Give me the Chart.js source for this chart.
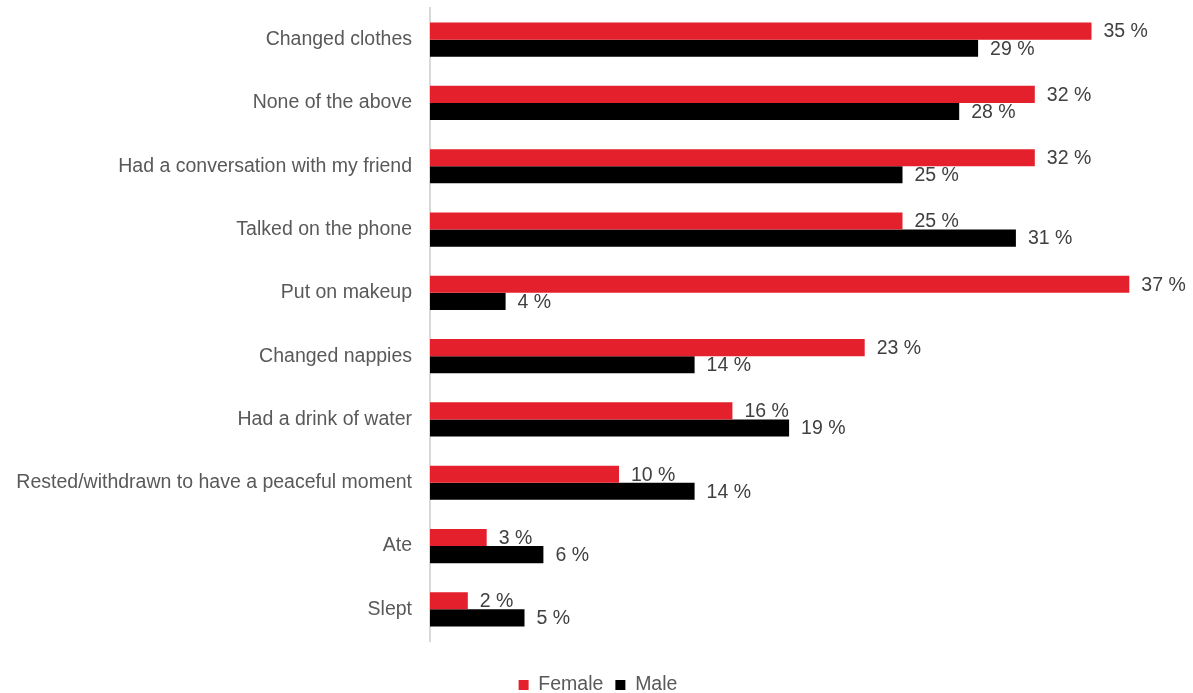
<!DOCTYPE html>
<html>
<head>
<meta charset="utf-8">
<script src="https://cdn.jsdelivr.net/npm/chart.js@4"></script>
<style>
  html, body { margin: 0; padding: 0; background: #ffffff; }
  #wrap { width: 1193px; height: 693px; position: relative; }
</style>
</head>
<body>
<div id="wrap"><canvas id="chart"></canvas></div>
<script>
// Activities, in display order (top to bottom)
const categories = [
  "Changed clothes",
  "None of the above",
  "Had a conversation with my friend",
  "Talked on the phone",
  "Put on makeup",
  "Changed nappies",
  "Had a drink of water",
  "Rested/withdrawn to have a peaceful moment",
  "Ate",
  "Slept"
];
// Share of respondents, percent
const femaleValues = [35, 32, 32, 25, 37, 23, 16, 10, 3, 2];
const maleValues   = [29, 28, 25, 31, 4, 14, 19, 14, 6, 5];
const seriesNames  = ["Female", "Male"];

const FONT = "'Liberation Sans', Arial, sans-serif";
const FONT_SIZE = 19.5;
const LEFT_PAD = 10;

// Writes "NN %" just past the end of every bar
const valueLabels = {
  id: 'valueLabels',
  afterDatasetsDraw(chart) {
    const ctx = chart.ctx;
    ctx.save();
    ctx.font = FONT_SIZE + "px " + FONT;
    ctx.fillStyle = "#404040";
    ctx.textAlign = "left";
    ctx.textBaseline = "middle";
    chart.data.datasets.forEach((ds, i) => {
      const meta = chart.getDatasetMeta(i);
      meta.data.forEach((bar, j) => {
        ctx.fillText(ds.data[j] + " %", bar.x + 12, bar.y + 1);
      });
    });
    ctx.restore();
  }
};

new Chart(document.getElementById('chart'), {
  type: 'bar',
  data: {
    labels: categories,
    datasets: [
      { label: seriesNames[0], data: femaleValues, backgroundColor: '#e3202b' },
      { label: seriesNames[1], data: maleValues, backgroundColor: '#000000' }
    ]
  },
  options: {
    indexAxis: 'y',
    responsive: true,
    maintainAspectRatio: false,
    animation: false,
    layout: { padding: { top: 8, right: 7, bottom: -11.75, left: LEFT_PAD } },
    datasets: {
      bar: { categoryPercentage: 0.54, barPercentage: 1.0 }
    },
    scales: {
      x: {
        min: 0,
        max: 40,
        grid: { display: false },
        border: { display: false },
        ticks: { display: false },
        afterFit(scale) { scale.height = 22.25; }
      },
      y: {
        grid: { display: false },
        border: { display: true, color: '#d9d9d9', width: 2 },
        ticks: {
          color: '#595959',
          font: { family: FONT, size: FONT_SIZE },
          padding: 10
        },
        afterFit(scale) {
          scale.width = 430 - LEFT_PAD;
          scale.paddingTop = 0;
          scale.paddingBottom = 0;
        }
      }
    },
    plugins: {
      legend: {
        position: 'bottom',
        labels: {
          color: '#595959',
          font: { family: FONT, size: FONT_SIZE },
          boxWidth: 10,
          boxHeight: 10,
          padding: 12
        }
      },
      tooltip: { enabled: false }
    }
  },
  plugins: [valueLabels]
});
</script>
</body>
</html>
